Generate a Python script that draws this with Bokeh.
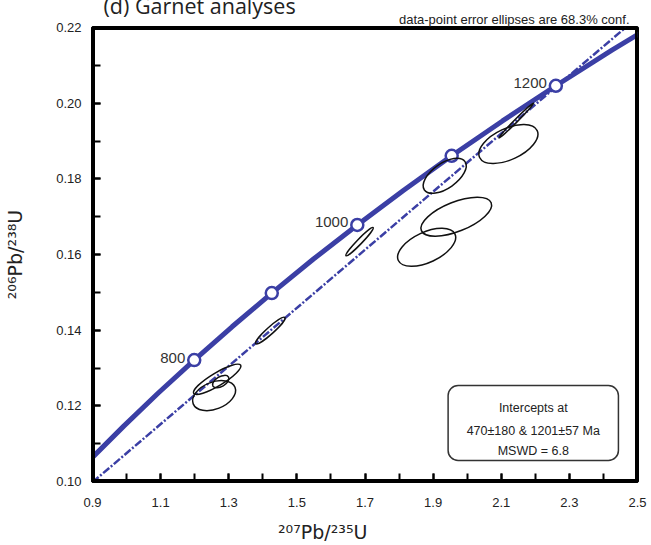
from bokeh.plotting import figure
from bokeh.models import FixedTicker, NumeralTickFormatter, Label, BoxAnnotation, ColumnDataSource, Title
from bokeh.core.properties import value
from bokeh.embed import file_html
from bokeh.resources import INLINE

# ---- data ----
# concordia (Ma, 207Pb/235U, 206Pb/238U)
conc_age = [650, 700, 750, 800, 850, 900, 950, 1000, 1050, 1100, 1150, 1200, 1250, 1300]
conc_x = [0.8968, 0.9925, 1.0931, 1.1987, 1.3097, 1.4263, 1.5488, 1.6774,
          1.8126, 1.9545, 2.1037, 2.2603, 2.4249, 2.5978]
conc_y = [0.1061, 0.1147, 0.1234, 0.1321, 0.1409, 0.1498, 0.1588, 0.1678,
          0.1769, 0.1861, 0.1953, 0.2046, 0.2140, 0.2234]

# concordia age markers
mark_age = [800, 900, 1000, 1100, 1200]
mark_x = [1.1987, 1.4263, 1.6774, 1.9545, 2.2603]
mark_y = [0.1321, 0.1498, 0.1678, 0.1861, 0.2046]
mark_lbl = ["800", "", "1000", "", "1200"]

# discordia (dash-dot) end points
disc_x = [0.900, 2.465]
disc_y = [0.0998, 0.2200]

# data-point error ellipses
ell_x = [1.968, 1.881, 2.121, 1.934, 2.144, 1.684, 1.422, 1.257, 1.266, 1.2765]
ell_y = [0.1700, 0.1619, 0.1892, 0.1808, 0.1954, 0.1634, 0.1399, 0.1227, 0.1270, 0.1264]
ell_w = [0.2206, 0.1835, 0.1865, 0.1456, 0.1440, 0.1147, 0.1147, 0.1320, 0.1610, 0.0530]
ell_h = [0.00777, 0.00798, 0.00825, 0.00660, 0.00080, 0.00132, 0.00185, 0.00710, 0.00344, 0.00264]
ell_a = [21.8, 25.0, 25.0, 35.0, 45.0, 46.0, 42.0, 21.6, 31.0, 30.0]

x_ticks = [0.9, 1.1, 1.3, 1.5, 1.7, 1.9, 2.1, 2.3, 2.5]
x_minor = [0.9, 1.0, 1.1, 1.2, 1.3, 1.4, 1.5, 1.6, 1.7, 1.8, 1.9, 2.0, 2.1, 2.2, 2.3, 2.4, 2.5]
y_ticks = [0.10, 0.12, 0.14, 0.16, 0.18, 0.20, 0.22]
y_minor = [0.10, 0.11, 0.12, 0.13, 0.14, 0.15, 0.16, 0.17, 0.18, 0.19, 0.20, 0.21, 0.22]

intercept_lines = ["Intercepts at", "470\u00b1180 & 1201\u00b157 Ma", "MSWD = 6.8"]
x_title = "\u00b2\u2070\u2077Pb/\u00b2\u00b3\u2075U"
y_title = "\u00b2\u2070\u2076Pb/\u00b2\u00b3\u2078U"
chart_title = "(d) Garnet analyses"
note = "data-point error ellipses are 68.3% conf."

BLUE = "#3b3fa5"
FONT = "Liberation Sans"
AXFONT = "DejaVu Sans"

p = figure(width=651, height=545, x_range=(0.9, 2.5), y_range=(0.10, 0.22),
           output_backend="svg", toolbar_location=None,
           min_border_left=92, min_border_right=14, min_border_top=27, min_border_bottom=64)
p.title.visible = False
p.grid.visible = False
p.background_fill_color = "white"
p.border_fill_color = "white"
p.outline_line_color = "#000000"
p.outline_line_width = 3
p.outline_line_alpha = 1.0

p.xaxis.ticker = FixedTicker(ticks=x_ticks, minor_ticks=x_minor)
p.yaxis.ticker = FixedTicker(ticks=y_ticks, minor_ticks=y_minor)
p.xaxis.formatter = NumeralTickFormatter(format="0.0")
p.yaxis.formatter = NumeralTickFormatter(format="0.00")
for ax in (p.xaxis[0], p.yaxis[0]):
    ax.axis_line_color = "#000000"
    ax.axis_line_width = 3
    ax.major_tick_in = 8
    ax.major_tick_out = 0
    ax.minor_tick_in = 8
    ax.minor_tick_out = 0
    ax.major_tick_line_width = 2
    ax.minor_tick_line_width = 2
    ax.major_tick_line_color = "#000000"
    ax.minor_tick_line_color = "#000000"
    ax.major_label_text_font = FONT
    ax.major_label_text_font_size = "13px"
    ax.major_label_text_color = "#222222"
    ax.axis_label_text_font = AXFONT
    ax.axis_label_text_font_size = "19px"
    ax.axis_label_text_font_style = "normal"
    ax.axis_label_text_color = "#222222"
p.xaxis.major_label_standoff = 16
p.yaxis.major_label_standoff = 11
p.yaxis.axis_label = y_title
p.yaxis.axis_label_standoff = 27
# trailing no-break spaces move the centred x title left, as in the reference
p.xaxis.axis_label = x_title + "\u00a0" * 14
p.xaxis.axis_label_standoff = 11

# note (nearest to frame) and chart title above
p.add_layout(Title(text=note, align="right", offset=8, standoff=2, text_font=FONT,
                   text_font_size="13px", text_font_style="normal", text_color="#222222"), "above")
p.add_layout(Title(text=chart_title, align="left", offset=11, standoff=-24, vertical_align="middle",
                   text_font="Open Sans", text_font_size="21.5px", text_font_style="normal",
                   text_color="#222222"), "above")

# plot frame
p.add_layout(BoxAnnotation(left=0.9, right=2.5, bottom=0.10, top=0.22, fill_alpha=0.0,
                           line_color="#000000", line_alpha=1.0, line_width=5))

# discordia
p.line(disc_x, disc_y, line_color=BLUE, line_width=2.5, line_dash="8 2 2 2")
# concordia
p.line(conc_x, conc_y, line_color=BLUE, line_width=5)
p.scatter(mark_x, mark_y, marker="circle", size=12, fill_color="white",
          line_color=BLUE, line_width=2.5)
p.text(x=mark_x, y=mark_y, text=mark_lbl, text_align="right", text_baseline="alphabetic",
       x_offset=-9, y_offset=-2.5, text_font=value(FONT), text_font_size="15px",
       text_color="#333333")

# ellipses
src = ColumnDataSource(dict(x=ell_x, y=ell_y, w=ell_w, h=ell_h, a=ell_a))
p.ellipse(x="x", y="y", width="w", height="h", angle="a", angle_units="deg", source=src,
          fill_color=None, line_color="#111111", line_width=1.5)

# intercept box
p.add_layout(BoxAnnotation(left=1.944, right=2.444, bottom=0.10555, top=0.12538,
                           fill_color="white", fill_alpha=1.0, line_color="#333333",
                           line_alpha=1.0, line_width=1.5, border_radius=10))
for txt, yy in zip(intercept_lines, [0.11930, 0.11348, 0.10819]):
    p.add_layout(Label(x=2.194, y=yy, text=txt, text_align="center", text_baseline="alphabetic",
                       text_font=FONT, text_font_size="12.5px", text_color="#222222"))

open("out.html", "w").write(file_html(p, INLINE))
